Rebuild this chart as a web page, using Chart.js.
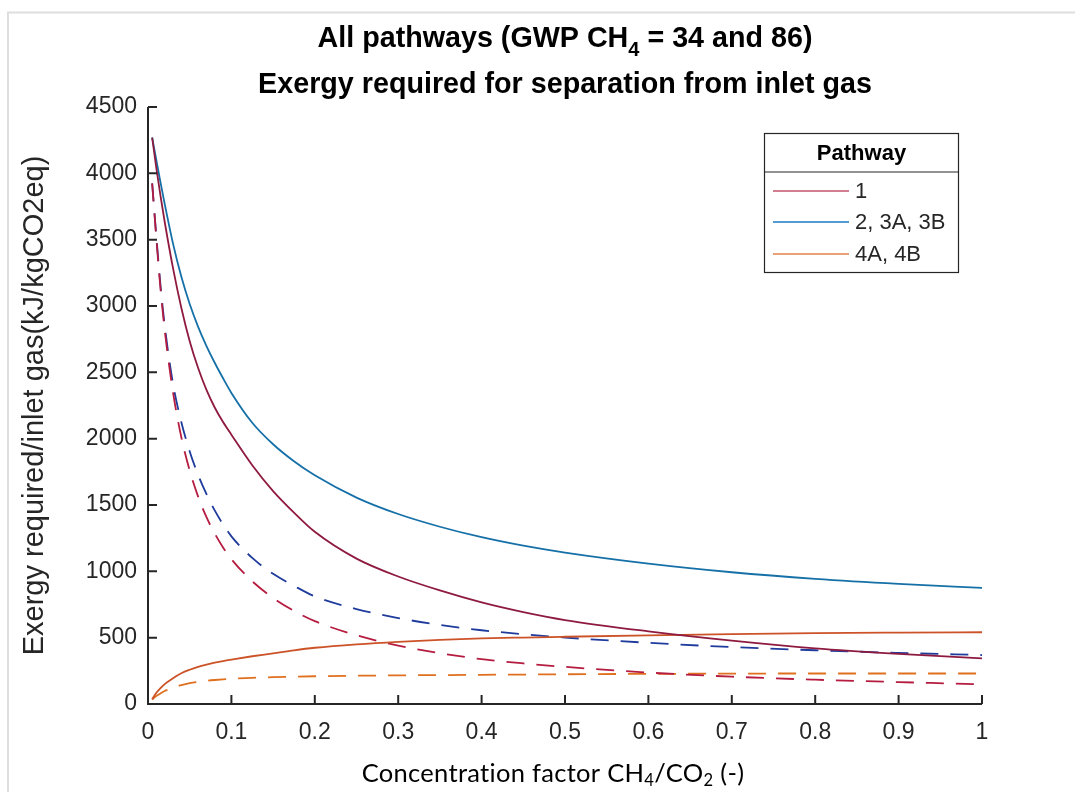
<!DOCTYPE html>
<html><head><meta charset="utf-8">
<script src="https://cdn.jsdelivr.net/npm/chart.js@4.4.0/dist/chart.umd.min.js"></script>
<style>html,body{margin:0;padding:0;background:#fff;}#wrap{position:relative;width:1075px;height:792px;}canvas{display:block;}</style>
</head><body><div id="wrap"><canvas id="c" width="1075" height="792"></canvas></div>
<script>
// ---- data ----
const xValues = [0.005,0.01,0.015,0.02,0.03,0.04,0.05,0.06,0.07,0.08,0.09,0.1,0.125,0.15,0.175,0.2,0.25,0.3,0.35,0.4,0.45,0.5,0.6,0.7,0.8,0.9,1.0];
const pathway1Solid  = [4270,4040,3830,3635,3285,2985,2735,2535,2370,2235,2125,2030,1800,1605,1443,1298,1096,961,856,766,693,633,548,478,420,378,344];
const pathway2Solid  = [4270,4100,3932,3770,3470,3220,3015,2845,2700,2572,2455,2345,2120,1958,1830,1724,1556,1432,1336,1257,1193,1141,1058,993,943,905,875];
const pathway4Solid  = [35,85,120,150,195,232,258,279,296,311,324,335,360,382,405,424,450,469,483,494,501,507,518,527,534,538,541];
const pathway1Dashed = [3924,3510,3130,2820,2350,2010,1760,1565,1410,1285,1180,1092,925,800,702,625,518,440,383,338,306,280,237,206,183,165,149];
const pathway2Dashed = [3924,3524,3154,2854,2414,2124,1904,1729,1584,1459,1354,1264,1101,981,891,811,716,648,596,556,526,501,461,429,405,385,369];
const pathway4Dashed = [35,60,80,98,122,142,157,167,175,181,186,190,197,202,206,209,213,216,218,220,222,224,227,229,230,230,230];
const legendLabels = ['1','2, 3A, 3B','4A, 4B'];
const legendTitle = 'Pathway';
const xTickValues = [0,0.1,0.2,0.3,0.4,0.5,0.6,0.7,0.8,0.9,1];
const yTickValues = [0,500,1000,1500,2000,2500,3000,3500,4000,4500];
const titleLine1 = [{t:'All pathways (GWP CH'},{t:'4',sub:true},{t:' = 34 and 86)'}];
const titleLine2 = 'Exergy required for separation from inlet gas';
const yLabel = 'Exergy required/inlet gas(kJ/kgCO2eq)';
const xLabel = [{t:'Concentration factor CH'},{t:'4',sub:true},{t:'/CO'},{t:'2',sub:true},{t:' (-)'}];

const pts = arr => arr.map((v,i)=>({x:xValues[i], y:v}));
const AX = '#262626';
const SANS = '"Liberation Sans", Arial, sans-serif';

function mk(label, data, color, dashed){
  return {label, data: pts(data), borderColor: color, backgroundColor: color,
    borderWidth: 1.8, pointRadius: 0, fill:false, cubicInterpolationMode:'monotone',
    borderDash: dashed ? [18,12] : []};
}

function drawSegs(ctx, segs, cx, y, font, subFont, subDy){
  let total = 0;
  segs.forEach(s=>{ctx.font = s.sub?subFont:font; s.w = ctx.measureText(s.t).width; total += s.w;});
  let x = cx - total/2;
  ctx.textAlign='left';
  segs.forEach(s=>{ctx.font = s.sub?subFont:font; ctx.fillText(s.t, x, y + (s.sub?subDy:0)); x += s.w;});
}

const decor = {
  id:'decor',
  beforeDraw(chart){
    const ctx = chart.ctx;
    ctx.save();
    ctx.strokeStyle = '#dedede'; ctx.lineWidth = 2;
    ctx.beginPath(); ctx.moveTo(8, 800); ctx.lineTo(8, 12.5); ctx.lineTo(1080, 12.5); ctx.stroke();
    ctx.restore();
  },
  afterDraw(chart){
    const ctx = chart.ctx, ca = chart.chartArea;
    const xs = chart.scales.x, ys = chart.scales.y;
    ctx.save();
    ctx.strokeStyle = AX; ctx.lineWidth = 2;
    ctx.beginPath(); ctx.moveTo(ca.left, ca.top); ctx.lineTo(ca.left, ca.bottom); ctx.lineTo(ca.right, ca.bottom); ctx.stroke();
    ctx.beginPath();
    xs.ticks.forEach(t=>{const p = xs.getPixelForValue(t.value); ctx.moveTo(p, ca.bottom); ctx.lineTo(p, ca.bottom-9);});
    ys.ticks.forEach(t=>{const p = ys.getPixelForValue(t.value); ctx.moveTo(ca.left, p); ctx.lineTo(ca.left+9, p);});
    ctx.stroke();
    ctx.fillStyle = '#000'; ctx.textBaseline = 'alphabetic';
    const cx = (ca.left + ca.right)/2;
    drawSegs(ctx, titleLine1, cx, 47, 'bold 28.7px '+SANS, 'bold 20px '+SANS, 9);
    ctx.font = 'bold 28.7px '+SANS; ctx.textAlign='center';
    ctx.fillText(titleLine2, cx, 93);
    ctx.save();
    ctx.translate(43, (ca.top+ca.bottom)/2); ctx.rotate(-Math.PI/2);
    ctx.font = '29px '+SANS; ctx.fillStyle = AX; ctx.textAlign='center';
    ctx.fillText(yLabel, 0, 0);
    ctx.restore();
    ctx.fillStyle = '#000';
    ctx.letterSpacing = '0.3px';
    let size = 25, w = 0;
    xLabel.forEach(s=>{ctx.font=(s.sub?size*0.65:size)+'px Lato'; w+=ctx.measureText(s.t).width;});
    size = size*383/w;
    drawSegs(ctx, xLabel, 553, 782, size+'px Lato', (size*0.65)+'px Lato', 4);
    ctx.letterSpacing = '0px';
    const L = 764.5, T = 133.5, R = 958.5, B = 272.5, S = 172;
    ctx.fillStyle = '#fff'; ctx.fillRect(L, T, R-L, B-T);
    ctx.strokeStyle = '#262626'; ctx.lineWidth = 1.2;
    ctx.strokeRect(L, T, R-L, B-T);
    ctx.beginPath(); ctx.moveTo(L, S); ctx.lineTo(R, S); ctx.stroke();
    ctx.fillStyle = '#000'; ctx.font = 'bold 22px '+SANS; ctx.textAlign='center'; ctx.textBaseline='middle';
    ctx.fillText(legendTitle, (L+R)/2, 154);
    const lc = ['#c4536c','#1a78c2','#e0804a'];
    const ly = [191, 222, 254];
    ctx.font = '22px '+SANS; ctx.textAlign='left';
    legendLabels.forEach((lab,i)=>{
      ctx.strokeStyle = lc[i]; ctx.lineWidth = 1.5;
      ctx.beginPath(); ctx.moveTo(773, ly[i]); ctx.lineTo(849, ly[i]); ctx.stroke();
      ctx.fillStyle = AX; ctx.fillText(lab, 855, ly[i]+1);
    });
    ctx.restore();
  }
};

new Chart(document.getElementById('c'), {
  type:'line',
  data:{ datasets:[
    mk('1', pathway1Solid, '#8e1b3f', false),
    mk('2, 3A, 3B', pathway2Solid, '#1670a8', false),
    mk('4A, 4B', pathway4Solid, '#cc5228', false),
    mk('1 (dashed)', pathway1Dashed, '#b51c40', true),
    mk('2, 3A, 3B (dashed)', pathway2Dashed, '#1f3c9c', true),
    mk('4A, 4B (dashed)', pathway4Dashed, '#e0701f', true)
  ]},
  options:{
    responsive:false, animation:false, devicePixelRatio:1,
    layout:{padding:{left:0, right:93, top:107, bottom:0}},
    plugins:{legend:{display:false}, title:{display:false}, tooltip:{enabled:false}},
    scales:{
      x:{type:'linear', min:0, max:1,
        afterBuildTicks: s => { s.ticks = xTickValues.map(v=>({value:v})); },
        ticks:{callback: v => String(Math.round(v*10)/10), font:{family:SANS, size:23}, color:AX, padding:15, maxRotation:0, autoSkip:false},
        grid:{display:false, drawTicks:false}, border:{display:false},
        afterFit: s => { s.height = 88; }},
      y:{type:'linear', min:0, max:4500,
        afterBuildTicks: s => { s.ticks = yTickValues.map(v=>({value:v})); },
        ticks:{callback: v => String(v), font:{family:SANS, size:23}, color:AX, padding:11, autoSkip:false},
        grid:{display:false, drawTicks:false}, border:{display:false},
        afterFit: s => { s.width = 148; }}
    }
  },
  plugins:[decor]
});
</script></body></html>
